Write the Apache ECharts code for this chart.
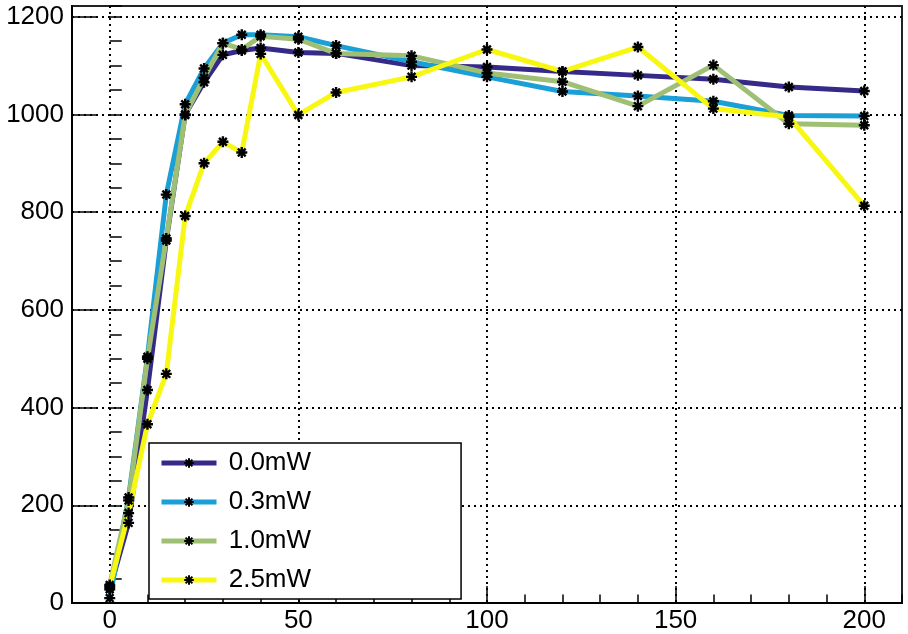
<!DOCTYPE html>
<html>
<head>
<meta charset="utf-8">
<script src="https://cdn.jsdelivr.net/npm/echarts@6/dist/echarts.min.js"></script>
<style>
html,body{margin:0;padding:0;background:#fff;}
#chart{width:908px;height:634px;}
</style>
</head>
<body>
<div id="chart"></div>
<script>
// ---- data ----
const xValues = [0, 5, 10, 15, 20, 25, 30, 35, 40, 50, 60, 80, 100, 120, 140, 160, 180, 200];
const seriesNames = ['0.0mW', '0.3mW', '1.0mW', '2.5mW'];
const p00 = [28, 164, 436, 742, 1000, 1066, 1122, 1131, 1136, 1127, 1125, 1100, 1097, 1088, 1080, 1072, 1056, 1048];
const p03 = [10, 216, 504, 836, 1021, 1094, 1146, 1163, 1163, 1159, 1141, 1108, 1077, 1047, 1038, 1027, 998, 997];
const p10 = [37, 210, 500, 746, 999, 1075, 1146, 1133, 1160, 1154, 1125, 1120, 1085, 1067, 1017, 1101, 981, 978];
const p25 = [33, 184, 366, 469, 792, 900, 944, 922, 1124, 999, 1045, 1077, 1133, 1088, 1138, 1012, 995, 813];
const xTickLabels = [0, 50, 100, 150, 200];
const yTickLabels = [0, 200, 400, 600, 800, 1000, 1200];

const colors = ['#352A87', '#1A9FD6', '#9FBF75', '#F7F712'];
const allSeries = [p00, p03, p10, p25];

const FONT = 'Liberation Sans, Arial, Helvetica, sans-serif';
const asterisk = 'path://M0,-10L0,10M-10,0L10,0M-7.07,-7.07L7.07,7.07M-7.07,7.07L7.07,-7.07';

const chart = echarts.init(document.getElementById('chart'), null, {renderer: 'canvas'});

const series = allSeries.map((vals, i) => ({
  name: seriesNames[i],
  type: 'line',
  xAxisIndex: 0,
  yAxisIndex: 0,
  data: xValues.map((x, k) => [x, vals[k]]),
  symbol: asterisk,
  symbolSize: 11,
  showAllSymbol: true,
  lineStyle: {color: colors[i], width: 5},
  itemStyle: {color: '#000', borderColor: '#000', borderWidth: 2.4},
  emphasis: {disabled: true},
  animation: false,
  z: 3
}));

const option = {
  animation: false,
  backgroundColor: '#fff',
  grid: {left: 72, top: 6, right: 6, bottom: 31, show: true, borderColor: '#222', borderWidth: 2, backgroundColor: 'transparent'},
  legend: {
    data: seriesNames,
    orient: 'vertical',
    left: 149,
    top: 443,
    padding: [7, 150, 6, 10],
    itemGap: 13,
    itemWidth: 55,
    itemHeight: 12,
    backgroundColor: '#fff',
    borderColor: '#000',
    borderWidth: 1.5,
    borderRadius: 0,
    lineStyle: {width: 5},
    itemStyle: {borderWidth: 2},
    formatter: n => ' ' + n,
    textStyle: {fontFamily: FONT, fontSize: 26, lineHeight: 26, color: '#000'},
    selectedMode: false,
    z: 10
  },
  xAxis: [
    {
      type: 'value', min: -10, max: 210, position: 'bottom',
      axisLine: {show: true, onZero: false, lineStyle: {color: '#000', width: 2}},
      axisTick: {show: true, inside: true, length: 17, customValues: xTickLabels, lineStyle: {color: '#000', width: 1.5}},
      axisLabel: {show: true, customValues: xTickLabels, margin: 5, formatter: v => String(v), fontFamily: FONT, fontSize: 26, lineHeight: 26, color: '#000'},
      splitLine: {show: true, lineStyle: {color: '#000', width: 2, type: [2, 4]}}
    },
    {
      type: 'value', min: -10, max: 210, interval: 10, position: 'bottom', offset: 0,
      axisLine: {show: false},
      axisTick: {show: true, inside: true, length: 8.5, lineStyle: {color: '#000', width: 1.5}},
      axisLabel: {show: false},
      splitLine: {show: false}
    }
  ],
  yAxis: [
    {
      type: 'value', min: 0, max: 1222, position: 'left',
      axisLine: {show: true, onZero: false, lineStyle: {color: '#000', width: 2}},
      axisTick: {show: true, inside: true, length: 24, customValues: yTickLabels, lineStyle: {color: '#000', width: 1.5}},
      axisLabel: {show: true, customValues: yTickLabels, margin: 8, formatter: v => String(v), fontFamily: FONT, fontSize: 26, color: '#000'},
      splitLine: {show: true, lineStyle: {color: '#000', width: 2, type: [2, 4]}}
    },
    {
      type: 'value', min: 0, max: 1222, interval: 50, position: 'left', offset: 0,
      axisLine: {show: false},
      axisTick: {show: true, inside: true, length: 12, lineStyle: {color: '#000', width: 1.5}},
      axisLabel: {show: false},
      splitLine: {show: false}
    }
  ],
  series: series
};

chart.setOption(option);
</script>
</body>
</html>
